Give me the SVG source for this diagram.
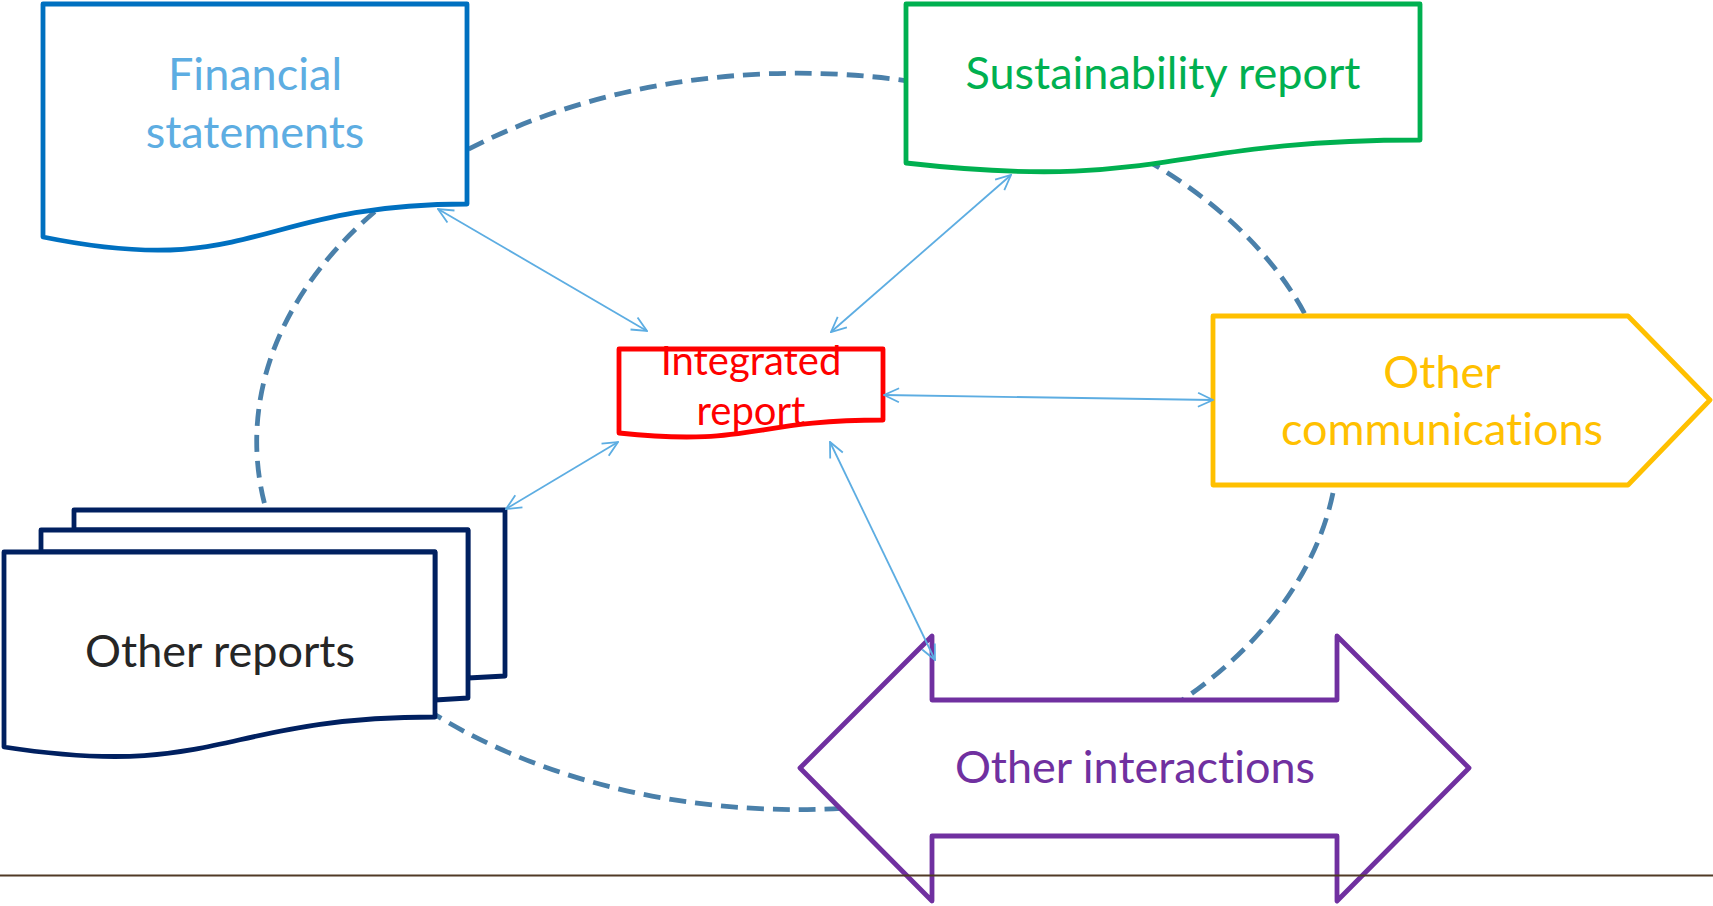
<svg xmlns="http://www.w3.org/2000/svg" width="1713" height="906" viewBox="0 0 1713 906">
<defs>
<style>
.lbl{font-family:Lato,"Open Sans","Liberation Sans",sans-serif;text-anchor:middle;font-variant-ligatures:none;font-feature-settings:"liga" 0}
.shape{fill:#fff;stroke-width:4.8;stroke-linejoin:round}
.conn{fill:none;stroke:#5DADE2;stroke-width:1.8;marker-start:url(#oa);marker-end:url(#oa)}
</style>
<marker id="oa" viewBox="0 0 18 18" refX="17" refY="9" markerWidth="18" markerHeight="18" markerUnits="userSpaceOnUse" orient="auto-start-reverse">
<path d="M2,2 L17,9 L2,16" fill="none" stroke="#5DADE2" stroke-width="1.8"/>
</marker>
</defs>
<rect width="1713" height="906" fill="#fff"/>
<g id="cycle">
<ellipse cx="797.5" cy="441.4" rx="540.8" ry="368.2" fill="none" stroke="#4A80AA" stroke-width="4.8" stroke-dasharray="17 9"/>
</g>
<g id="financial">
<path class="shape" stroke="#0070C0" d="M43,4 H467 V204 C255,204 255,280 43,237 Z"/>
<text class="lbl" fill="#5DADE2" font-size="45" x="255" y="90">Financial</text>
<text class="lbl" fill="#5DADE2" font-size="45" x="255" y="148">statements</text>
</g>
<g id="sustainability">
<path class="shape" stroke="#00B050" d="M906,4 H1420 V140 C1163,140 1163,192 906,163 Z"/>
<text class="lbl" fill="#00B050" font-size="45" x="1163" y="89">Sustainability report</text>
</g>
<g id="integrated">
<path class="shape" stroke="#FF0000" d="M619,349 H883 V420 C751,420 751,447 619,433 Z"/>
<text class="lbl" fill="#FF0000" font-size="40" x="751" y="375">Integrated</text>
<text class="lbl" fill="#FF0000" font-size="40" x="751" y="425">report</text>
</g>
<g id="other-reports">
<path class="shape" stroke="#002060" d="M74,510 H505 V676 L468,678 V530 H74 Z"/>
<path class="shape" stroke="#002060" d="M41,530 H468 V698 L435,700 V552 H41 Z"/>
<path class="shape" stroke="#002060" d="M4,552 H435 V717 C219,717 219,780 4,747 Z"/>
<text class="lbl" fill="#262626" font-size="45" x="220" y="667">Other reports</text>
</g>
<g id="other-communications">
<path class="shape" stroke="#FFC000" d="M1213,316 H1628 L1710,400 L1628,485 H1213 Z"/>
<text class="lbl" fill="#FFC000" font-size="45" x="1442" y="388">Other</text>
<text class="lbl" fill="#FFC000" font-size="45" x="1442" y="445">communications</text>
</g>
<g id="other-interactions">
<path class="shape" stroke="#7030A0" d="M800,768 L932,636 V700 H1337 V636 L1469,768 L1337,901 V836 H932 V901 Z"/>
<text class="lbl" fill="#7030A0" font-size="45" x="1135" y="783">Other interactions</text>
</g>
<g id="connectors">
<path class="conn" d="M438,209 L647,331"/>
<path class="conn" d="M1011,175 L831,332"/>
<path class="conn" d="M884,395 L1213,400"/>
<path class="conn" d="M618,442 L506,509"/>
<path class="conn" d="M830,442 L935,660"/>
</g>
<g id="footer-line">
<line x1="0" y1="875.5" x2="1713" y2="875.5" stroke="#503A26" stroke-width="2"/>
</g>
</svg>
